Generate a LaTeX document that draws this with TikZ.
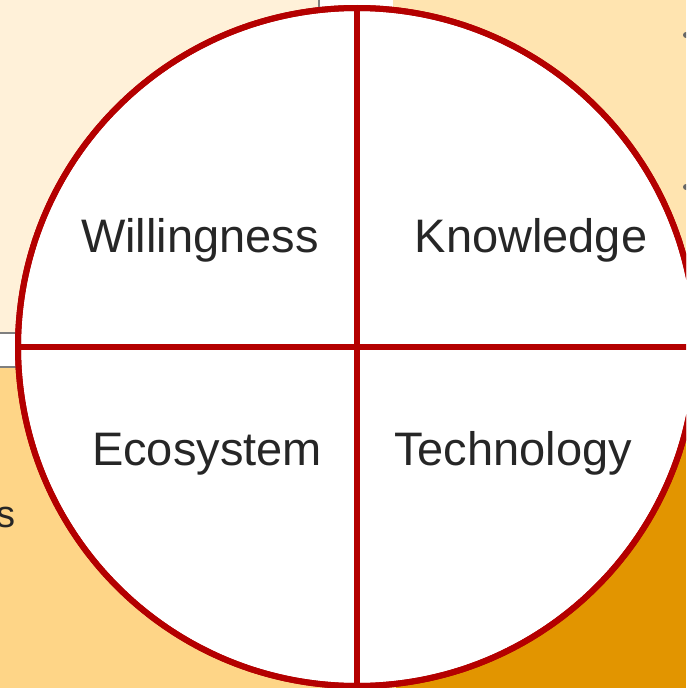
\documentclass[tikz,border=0pt]{standalone}
\usepackage{fontspec}
\setmainfont{Liberation Sans}
\begin{document}
\definecolor{panelA}{HTML}{FFF1D9}
\definecolor{panelB}{HTML}{FFE4B0}
\definecolor{panelC}{HTML}{FED587}
\definecolor{panelD}{HTML}{E29500}
\definecolor{ringred}{HTML}{B40000}
\definecolor{labelgray}{HTML}{262626}
\definecolor{rulegray}{HTML}{7F7F7F}
\begin{tikzpicture}[x=1pt,y=-1pt,
  panel/.style={draw=none},
  edge/.style={draw=rulegray,line width=1.2pt},
  ring/.style={circle,draw=ringred,fill=white,line width=6pt,minimum size=678pt,inner sep=0pt,outer sep=0pt},
  divider/.style={draw=ringred,line width=5.5pt},
  quad/.style={font=\fontsize{47}{50}\selectfont,text=labelgray,anchor=base},
  bulletdot/.style={circle,fill=rulegray!80!black,inner sep=0pt,minimum size=6pt}]
  \useasboundingbox (0,0) rectangle (686,688);
  \clip (0,0) rectangle (686,688);
  \fill[white] (0,0) rectangle (686,688);
  % background panels
  \fill[panelA] (0,0) rectangle (319,333);
  \fill[panelB] (393,0) rectangle (686,367);
  \fill[panelC] (0,367) rectangle (396,688);
  \fill[panelD] (396,367) rectangle (686,688);
  \draw[edge] (319,0) -- (319,333) -- (0,333);
  \draw[edge] (0,367) -- (396,367);
  % fragments of surrounding text
  \node[font=\fontsize{38}{40}\selectfont,text=labelgray,anchor=base west] (frag) at (-7,527) {s};
  \node[bulletdot] (b1) at (686,35) {};
  \node[bulletdot] (b2) at (686,187) {};
  % the quartered circle
  \node[ring] (c) at (357,347) {};
  \draw[divider] (c.north) -- (c.south);
  \draw[divider] (c.west) -- (c.east);
  \draw[draw=ringred,line width=6pt] (c.center) circle[radius=339pt];
  % quadrant labels
  \node[quad] (will) at (200,252) {Willingness};
  \node[quad] (know) at (531,252) {Knowledge};
  \node[quad] (eco) at (207,465) {Ecosystem};
  \node[quad] (tech) at (513,465) {Technology};
\end{tikzpicture}
\end{document}
